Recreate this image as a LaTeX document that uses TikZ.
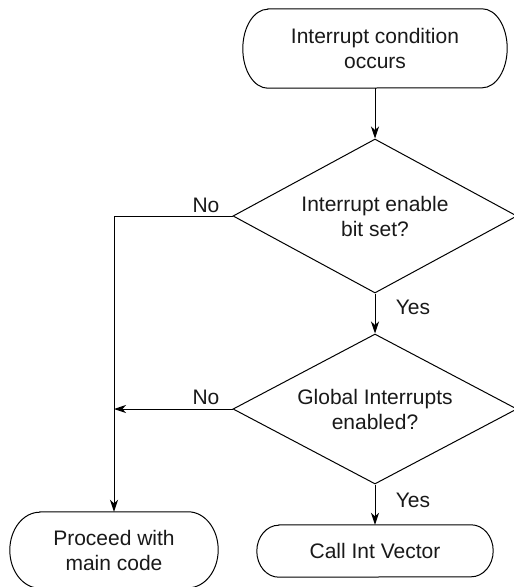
\documentclass[tikz,border=0pt]{standalone}
\usepackage{fontspec}
\setmainfont{Liberation Sans}
\usetikzlibrary{shapes.geometric,arrows.meta}

% Outline of a terminal box: straight top and bottom, elliptical ends.
% #1 node name, #2 horizontal radius of the ends, #3 half the box height
\newcommand\termoutline[3]{%
  \draw[line] ([xshift=#2pt]#1.north west) -- ([xshift=-#2pt]#1.north east)
    arc[start angle=90,end angle=-90,x radius=#2pt,y radius=#3pt]
    -- ([xshift=#2pt]#1.south west)
    arc[start angle=270,end angle=90,x radius=#2pt,y radius=#3pt] -- cycle;}

\begin{document}
\begin{tikzpicture}[x=1pt,y=-1pt,
  every node/.style={font=\fontsize{21}{25}\selectfont, align=center, inner sep=0pt, text=black!90},
  line/.style={line width=1pt, draw=black},
  arr/.style={line, -{Stealth[length=12pt,width=8pt,inset=3.5pt]}},
  terminal/.style={rectangle},
  decision/.style={diamond, line, aspect=1.84, minimum width=284pt, minimum height=#1}]

\fill[white] (0,0) rectangle (514,587);
\useasboundingbox (0,0) rectangle (514,587);

% boxes
\node[terminal, minimum width=264pt, minimum height=79pt] (start) at (375,48.5) {Interrupt condition\\occurs};
\node[decision=154pt] (d1) at (375,216) {Interrupt enable\\bit set?};
\node[decision=150pt] (d2) at (375,409) {Global Interrupts\\enabled?};
\node[terminal, minimum width=236pt, minimum height=52pt] (call) at (375,551) {Call Int Vector};
\node[terminal, minimum width=208pt, minimum height=76pt] (proc) at (114,550) {Proceed with\\main code};

\termoutline{start}{25}{39.5}
\termoutline{call}{22}{26}
\termoutline{proc}{30}{38}

% bends of the "No" branch
\coordinate (c1) at (114,216);
\coordinate (c2) at (114,409);

% connectors
\draw[arr] (start) -- (d1);
\draw[arr] (d1) -- (d2);
\draw[arr] (d2) -- (call);
\draw[line] (d1.west) -- (c1);
\draw[arr] (c1) -- (proc.north);
\draw[arr] (d2.west) -- (c2);

% branch labels
\node (no1) at (206,205) {No};
\node (yes1) at (413,307) {Yes};
\node (no2) at (206,397) {No};
\node (yes2) at (413,500) {Yes};
\end{tikzpicture}
\end{document}
